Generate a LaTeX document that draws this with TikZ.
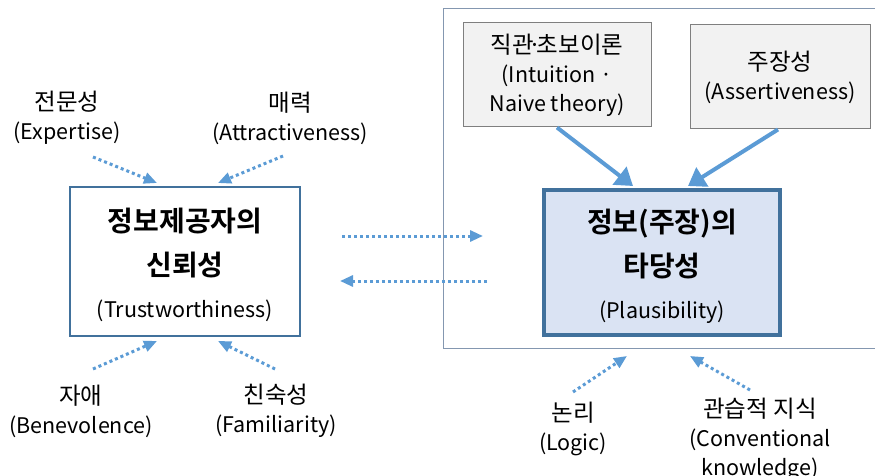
\documentclass[tikz,border=0pt]{standalone}
\usepackage{fontspec}
\setmainfont{Noto Sans CJK KR}[BoldFont={Noto Sans CJK KR Bold}]
\usetikzlibrary{arrows.meta}

\definecolor{arrowBlue}{HTML}{5B9BD5}
\definecolor{boxBlue}{HTML}{41719C}
\definecolor{fillBlue}{HTML}{DAE3F3}
\definecolor{frameGray}{HTML}{8497B0}
\definecolor{boxGray}{HTML}{F2F2F2}
\definecolor{edgeGray}{HTML}{7F7F7F}

\newcommand{\hangul}[1]{{\fontsize{23.5}{29}\selectfont #1}}

\begin{document}
\begin{tikzpicture}[x=1pt, y=-1pt,
	factor/.style={align=center, inner sep=0pt, font=\fontsize{21.5}{29}\selectfont},
	graybox/.style={draw=edgeGray, line width=1pt, fill=boxGray, align=center, inner sep=0pt,
		font=\fontsize{21.5}{29}\selectfont},
	mainbox/.style={align=center, inner sep=0pt, font=\bfseries\fontsize{28}{44}\selectfont},
	dotarrow/.style={draw=arrowBlue, line width=3pt, dash pattern=on 3pt off 3pt,
		-{Triangle[length=13pt, width=11pt]}},
	solidarrow/.style={draw=arrowBlue, line width=4pt, -{Triangle[length=17pt, width=22pt]}}]

	\useasboundingbox (0,0) rectangle (875,476);

% Define coordinates.

	%left factors
	\coordinate (expStart) at (93,157);
	\coordinate (expEnd) at (157,183);
	\coordinate (attStart) at (283,156);
	\coordinate (attEnd) at (218,183);
	\coordinate (benStart) at (93,369);
	\coordinate (benEnd) at (157,341);
	\coordinate (famStart) at (275,369);
	\coordinate (famEnd) at (218,341);

	%between the boxes
	\coordinate (rightTail) at (342,236);
	\coordinate (rightHead) at (483,236);
	\coordinate (leftTail) at (487,281);
	\coordinate (leftHead) at (340,281);

	%right factors
	\coordinate (logStart) at (573,392);
	\coordinate (logEnd) at (627,356);
	\coordinate (convStart) at (750,390);
	\coordinate (convEnd) at (690,356);

% Draw frame.

	\draw[frameGray, line width=1pt] (875,9) -- (443,9) -- (443,348) -- (875,348);

% Draw boxes.

	\node[draw=boxBlue, line width=1.5pt, fill=white, minimum width=230pt, minimum height=149pt]
		(trustBox) at (185,261.5) {};
	\node[mainbox] (trust) at (185,265) {정보제공자의\\신뢰성\\[-2pt]\fontsize{21.5}{44}\selectfont\mdseries (Trustworthiness)};

	\node[draw=boxBlue, line width=4pt, fill=fillBlue, minimum width=236pt, minimum height=145pt]
		(plausBox) at (662,262.5) {};
	\node[mainbox] (plaus) at (662,266) {정보(주장)의\\타당성\\[-2pt]\fontsize{21.5}{44}\selectfont\mdseries (Plausibility)};

	\node[graybox, minimum width=188pt, minimum height=104pt] (intuition) at (557,75)
		{\hangul{직관\kern-5pt·\kern-5pt초보이론}\\(Intuition ·\\Naive theory)};
	\node[graybox, minimum width=180pt, minimum height=104pt] (assert) at (780,77)
		{\hangul{주장성}\\(Assertiveness)};

% Draw labels.

	\node[factor] (expertise) at (67,118) {\hangul{전문성}\\(Expertise)};
	\node[factor] (attract) at (290,118) {\hangul{매력}\\(Attractiveness)};
	\node[factor] (benevol) at (81,411) {\hangul{자애}\\(Benevolence)};
	\node[factor] (familiar) at (276,411) {\hangul{친숙성}\\(Familiarity)};
	\node[factor] (logic) at (573,429) {\hangul{논리}\\(Logic)};
	\node[factor] (convent) at (760,439) {\hangul{관습적 지식}\\(Conventional\\knowledge)};

% Draw arrows.

	\draw[dotarrow] (expStart) -- (expEnd);
	\draw[dotarrow] (attStart) -- (attEnd);
	\draw[dotarrow] (benStart) -- (benEnd);
	\draw[dotarrow] (famStart) -- (famEnd);

	\draw[dotarrow] (rightTail) -- (rightHead);
	\draw[dotarrow] (leftTail) -- (leftHead);

	\draw[dotarrow] (logStart) -- (logEnd);
	\draw[dotarrow] (convStart) -- (convEnd);

	\draw[solidarrow] (intuition.south) -- ([xshift=-29pt, yshift=2pt]plausBox.north);
	\draw[solidarrow] ([xshift=-2pt]assert.south) -- ([xshift=26pt, yshift=2pt]plausBox.north);

\end{tikzpicture}
\end{document}
